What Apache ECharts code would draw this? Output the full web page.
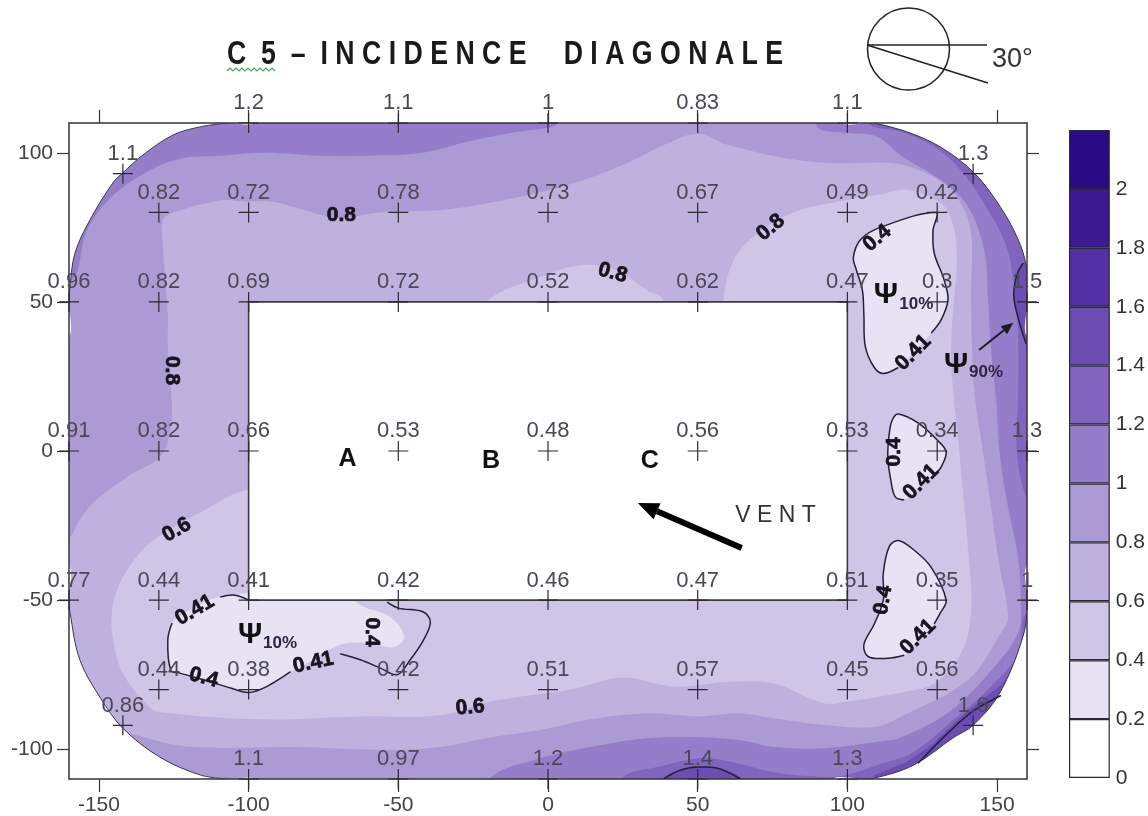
<!DOCTYPE html>
<html><head><meta charset="utf-8">
<style>html,body{margin:0;padding:0;background:#fff}#c{width:1148px;height:816px}</style>
<script src="https://cdn.jsdelivr.net/npm/echarts@6/dist/echarts.min.js"></script>
</head><body><div id="c"></div>
<script>
// measurement points (x, y, value)
const row110X=[-100,-50,0,50,100], row110V=[1.2,1.1,1,0.83,1.1];
const row80X=[-130,-100,-50,0,50,100,130], row80V=[0.82,0.72,0.78,0.73,0.67,0.49,0.42];
const row50X=[-160,-130,-100,-50,0,50,100,130,160], row50V=[0.96,0.82,0.69,0.72,0.52,0.62,0.47,0.3,1.5];
const row0X=[-160,-130,-100,-50,0,50,100,130,160], row0V=[0.91,0.82,0.66,0.53,0.48,0.56,0.53,0.34,1.3];
const rowM50X=[-160,-130,-100,-50,0,50,100,130,160], rowM50V=[0.77,0.44,0.41,0.42,0.46,0.47,0.51,0.35,1];
const rowM80X=[-130,-100,-50,0,50,100,130], rowM80V=[0.44,0.38,0.42,0.51,0.57,0.45,0.56];
const rowM110X=[-100,-50,0,50,100], rowM110V=[1.1,0.97,1.2,1.4,1.3];
const cornerX=[-142,142,-142,142], cornerY=[93,93,-92,-92], cornerV=[1.1,1.3,0.86,1.6];
// axes
const xTicks=[-150,-100,-50,0,50,100,150], yTicks=[-100,-50,0,50,100];
// colour scale
const levels=[0,0.2,0.4,0.6,0.8,1,1.2,1.4,1.6,1.8,2,2.2];
const bandColors=['#ffffff','#e7e3f4','#cfc5e7','#bfb1de','#ab9ad4','#957dc9','#8064bd','#6c4eb3','#5330a3','#3e1a92','#2b0a85'];
// building footprint (data units)
const buildingX=[-100,100], buildingY=[-50,50];
// contour regions, data units
const lt12=[[-170,120],[107,120],[107,110],[118,107],[129,102],[138,94],[146,82.5],[153,69],[155.7,55.7],[157,40.6],[157,17],[156.4,3.7],[158,-10],[161.4,-19],[170,-36],[170,-54],[159.7,-54.4],[157,-68],[147,-80],[135.6,-90],[122,-101],[111,-105],[98,-109],[87,-109],[75.4,-107.7],[58.7,-103.7],[50,-103],[36.6,-106],[25,-109.4],[21,-120],[-170,-120]];
const lt10=[[-170,60],[-159,57.4],[-154,74],[-146,85],[-135,93],[-123,98],[-109.5,99],[-94,100],[-76,99],[-60,99],[-42,100],[-26,104],[-10.5,107],[0,108.4],[3,110],[3,120],[90,120],[90,108.7],[100,106.7],[110,105.4],[118,99],[131,91],[140,82.5],[145.7,67.4],[147,50.7],[148,34],[149.7,17],[151,-2],[153.7,-19],[157,-35.6],[158,-52],[157,-61],[149,-72.5],[134.6,-87],[118,-96],[109,-97.7],[92,-99.7],[75.4,-99.3],[64.4,-97],[50,-96],[33,-96.3],[14,-99.3],[-5,-103.7],[-19,-109.4],[-22.6,-120],[-170,-120]];
const lt08=[[-170,-29],[-160,-29],[-157,-24],[-152,-17.4],[-140.6,-8.7],[-129.6,-2],[-126.3,6],[-125.6,14.8],[-127,35],[-127,46],[-128.6,68.5],[-128.6,77.5],[-125,80],[-109.5,84],[-100.5,83.6],[-92,83.6],[-72.7,78.5],[-66,78.5],[-56.7,80],[-34,81],[-10.5,85],[9,90],[26.6,96.6],[39.6,103],[50,106.4],[60,102.7],[76.8,98.7],[93.5,96.6],[114.5,96.6],[123.6,94.3],[134.6,87.6],[141,75],[141.3,50.7],[142.3,21.5],[145.7,-3],[148,-19],[150.3,-35.6],[153.7,-55.7],[151.3,-61],[140.3,-76.8],[118,-89],[109,-92.6],[93.5,-92],[75.4,-89.6],[64.4,-88],[50,-89],[33,-88],[14,-90],[-2.5,-93.6],[-19,-96],[-36,-99.3],[-51.7,-100.3],[-85,-99.3],[-118.6,-99.3],[-135,-96],[-146,-92],[-163,-83.6],[-170,-83.6]];
const lt06=[[-80,-13],[-100.5,-13],[-115,-20],[-132,-30],[-140.6,-40],[-145,-50],[-145.6,-61],[-142,-74.5],[-133,-86],[-129.6,-87.6],[-96,-90],[-62.7,-89],[-36,-88.6],[-19,-84],[7.5,-80],[25,-76],[42,-79],[60,-77.5],[75.4,-78],[92,-84.6],[100,-84],[118,-81],[129,-78],[138,-67.8],[141.3,-54.4],[140.3,-33],[138,-7.4],[137,3.7],[135.3,20.5],[134.6,34],[135.6,50.7],[136.6,64],[135.3,75.8],[131.3,83],[120.2,87.6],[111,86],[99,84],[82,80],[68.7,72],[62,64],[58.7,51.7],[58.7,40],[0,20]];
const lt06Bump=[[-20,50.7],[-2.5,58.4],[11,62.4],[22.6,60.7],[33,54],[38.3,51],[38,45],[-20,45]];
const lt04TopRight=[[129.6,80],[128.6,74],[129,66.4],[132.3,57.4],[133.6,50.7],[131.3,44],[128,39.6],[123,34],[117,28],[112,26],[109,28],[106,35],[105.5,46],[105,54],[103,60.7],[102,65],[104.5,71],[111,75]];
const lt04MidRight=[[117,12.4],[123.6,9.4],[130,3.7],[133,-0.3],[131.3,-5.4],[129,-8],[123,-13],[119,-16.4],[116,-15.4],[114.5,-9.7],[113.5,-2],[114,6],[115,10.4]];
const lt04LowRight=[[117,-30],[122,-33],[128,-39],[133,-50],[131,-54.4],[129,-58],[124,-63],[119,-68.5],[113.5,-69.5],[107,-69],[105.5,-65],[109,-58],[112,-50],[112,-41],[114,-32]];
const lt04Left=[[-64,-50.7],[-52.7,-55.7],[-48,-62.4],[-51.7,-65.8],[-60.4,-64.4],[-69.4,-65],[-82.8,-72.5],[-86,-74],[-94,-79],[-100,-81],[-106,-79.5],[-114,-77],[-123,-74.5],[-126,-73.5],[-127,-63.4],[-125.6,-57.7],[-119.6,-53.4],[-109.5,-49],[-64,-45]];
const gt14Right=[[158.7,63],[156.4,58.4],[155.7,50.7],[159.7,36],[161.4,34],[170,34],[170,63]];
const gt14Bottom=[[38.6,-110],[44.3,-107],[50,-106],[56.7,-106.4],[64.4,-110],[64.4,-120],[38.6,-120]];
const gt14Corner=[[108.9,-108.7],[119.6,-104.4],[128,-98.7],[139.6,-87.6],[151.3,-78.5],[156.4,-71.8],[170,-72],[170,-120],[108.9,-120]];
// domain outline, data units
const arcTL=[[-160,50],[-159.7,55],[-158,66.4],[-153,77.5],[-145.3,90],[-142,93.3],[-135.3,99.3],[-125.2,106],[-116.2,108.7],[-107,110]];
const arcTR=[[108.9,110],[120,107],[131,102],[142.3,93.3],[151,82],[157,71],[159.7,62],[160,50]];
const arcBR=[[160,-50],[159,-61],[151,-81],[142,-92],[135.6,-96],[122,-105.4],[108.9,-109.7],[103,-109.7]];
const arcBL=[[-107,-110],[-116,-108.7],[-129.6,-102.7],[-142,-93],[-149.7,-82.5],[-156.4,-70],[-159.7,-54],[-160,-50]];
// iso-lines, data units
const isoLines=[
 [[-53.7,-50.7],[-50,-52.7],[-41.6,-54],[-39.3,-57.4],[-41.6,-63.4],[-46,-70],[-50.3,-75],[-56,-72.8],[-62.7,-70],[-69.4,-68]],
 [[-86,-74],[-94,-79],[-100,-81],[-106,-79.5],[-114,-77],[-123,-74.5],[-126,-73.5],[-127,-63.4],[-125.6,-57.7]],
 [[-109.5,-49],[-105,-48.3],[-100,-50]],
 [[128,39.6],[131.3,44],[133.6,50.7],[132.3,57.4],[129,66.4],[128.6,74],[129.6,80],[111,75],[104.5,71],[102,65],[103,60.7],[105,54],[105.5,46],[106,35],[109,28],[112,26],[117,28]],
 [[129,-8],[131.3,-5.4],[133,-0.3],[130,3.7],[123.6,9.4],[117,12.4],[115,10.4],[114,6],[113.5,-2],[114.5,-9.7],[116,-15.4],[119,-16.4]],
 [[129,-58],[131,-54.4],[133,-50],[128,-39],[122,-33],[117,-30],[114,-32],[112,-41],[112,-50],[109,-58],[105.5,-65],[107,-69],[113.5,-69.5],[119,-68.5]],
 [[158.7,63],[156.4,58.4],[155.7,50.7],[159.7,36]],
 [[38.6,-110],[44.3,-107],[50,-106],[56.7,-106.4],[64.4,-110]],
 [[151.3,-82],[142.3,-87],[134.6,-93.6],[123.6,-104.7]]
];
// contour labels
const contourText=['0.8','0.8','0.8','0.8','0.6','0.6','0.41','0.4','0.41','0.4','0.4','0.41','0.4','0.41','0.4','0.41'];
const contourX=[-69,74.4,21.6,-125.6,-124,-26,-118,-115,-78.4,-58.7,110,122,115.6,124.6,112,123.6];
const contourY=[79,75,59.7,27,-26.5,-86,-53.4,-76,-71,-60.7,71.4,33,-0.3,-10.4,-50,-62.4];
const contourAngle=[0,40,-15,-90,30,5,30,-15,12,-90,40,45,90,45,80,45];

const points=[];
function addRow(xs,y,vs){xs.forEach((x,i)=>points.push([x,y,vs[i]]));}
addRow(row110X,110,row110V);addRow(row80X,80,row80V);addRow(row50X,50,row50V);addRow(row0X,0,row0V);
addRow(rowM50X,-50,rowM50V);addRow(rowM80X,-80,rowM80V);addRow(rowM110X,-110,rowM110V);
cornerX.forEach((x,i)=>points.push([x,cornerY[i],cornerV[i]]));

function shapes(items,z,clip){
  return {type:'custom',xAxisIndex:0,yAxisIndex:0,coordinateSystem:'cartesian2d',z:z,clip:clip,silent:true,
    data:items.map((_,i)=>[i]),encode:{x:[],y:[]},
    renderItem:(p,api)=>items[p.dataIndex](api)};
}
const SMOOTH=0.35;
const poly=(pts,fill,smooth)=>api=>({type:'polygon',shape:{points:pts.map(q=>api.coord(q)),smooth:smooth===undefined?SMOOTH:smooth},style:{fill:fill}});
const line=(pts,w,c)=>api=>({type:'polyline',shape:{points:pts.map(q=>api.coord(q)),smooth:SMOOTH},style:{fill:null,stroke:c||'#24203a',lineWidth:w||1.4}});
const text=(t,x,y,font,fill,deg,heavy)=>api=>{const c=api.coord([x,y]);return {type:'text',x:c[0],y:c[1],rotation:(deg||0)*Math.PI/180,style:{text:t,font:font,fill:fill,align:'center',verticalAlign:'middle',stroke:heavy?fill:null,lineWidth:heavy?0.7:0}};};
const arrow=(from,to,w,head,c)=>api=>{const a=api.coord(from),b=api.coord(to),ang=Math.atan2(b[1]-a[1],b[0]-a[0]);
  const bx=b[0]-head*Math.cos(ang),by=b[1]-head*Math.sin(ang),nx=-Math.sin(ang)*head*0.42,ny=Math.cos(ang)*head*0.42;
  return {type:'group',children:[
    {type:'line',shape:{x1:a[0],y1:a[1],x2:bx,y2:by},style:{stroke:c,lineWidth:w}},
    {type:'polygon',shape:{points:[b,[bx+nx,by+ny],[bx-nx,by-ny]]},style:{fill:c}}]};};
const rect=(xs,ys,fill,stroke)=>api=>{const a=api.coord([xs[0],ys[1]]),b=api.coord([xs[1],ys[0]]);
  return {type:'rect',shape:{x:a[0],y:a[1],width:b[0]-a[0],height:b[1]-a[1]},style:{fill:fill,stroke:stroke||null,lineWidth:stroke?1.6:0}};};

const fills=[
  rect([-170,170],[-120,120],bandColors[6]),
  poly(gt14Corner,bandColors[7],0),poly(lt12,bandColors[5]),poly(lt10,bandColors[4]),poly(lt08,bandColors[3]),
  poly(lt06,bandColors[2]),poly(lt06Bump,bandColors[2]),
  poly(lt04TopRight,bandColors[1]),poly(lt04MidRight,bandColors[1]),poly(lt04LowRight,bandColors[1]),poly(lt04Left,bandColors[1]),
  poly(gt14Right,bandColors[7]),poly(gt14Bottom,bandColors[7]),
  poly([[-175,38],[-160.4,38]].concat(arcTL,[[-98,110.4],[-98,125],[-175,125]]),'#fff'),
  poly([[98,125],[98,110.4]].concat(arcTR,[[160.4,38],[175,38],[175,125]]),'#fff'),
  poly([[175,-38],[160.4,-38]].concat(arcBR,[[95,-110.4],[95,-125],[175,-125]]),'#fff'),
  poly([[-98,-125],[-98,-110.4]].concat(arcBL,[[-160.4,-38],[-175,-38],[-175,-125]]),'#fff'),
  rect(buildingX,buildingY,'#fff','#3a3a48')
];
const lines=[arcTL,arcTR,arcBR,arcBL].map(a=>line(a,1,'#3b3550')).concat(isoLines.map(a=>line(a,1.5)));
const notes=contourText.map((t,i)=>text(t,contourX[i],contourY[i],'bold 21px "Liberation Sans"','#17131f',contourAngle[i],true));
notes.push(
  text('A',-67,-2.7,'bold 25px "Liberation Sans"','#111'),
  text('B',-19,-3.4,'bold 25px "Liberation Sans"','#111'),
  text('C',34,-3.4,'bold 25px "Liberation Sans"','#111'),
  text('V E N T',76,-21.8,'23px "Liberation Sans"','#333'),
  arrow([64.7,-32.5],[30,-17.4],6,21,'#000'),
  text('Ψ',112.9,52.3,'bold 30px "Liberation Sans"','#111'),
  text('10%',123,49.3,'bold 17px "Liberation Sans"','#2c2545'),
  text('Ψ',-99.5,-61.7,'bold 30px "Liberation Sans"','#111'),
  text('10%',-89.5,-64.4,'bold 17px "Liberation Sans"','#2c2545'),
  text('Ψ',136.3,28.9,'bold 30px "Liberation Sans"','#111'),
  text('90%',146.3,26.5,'bold 17px "Liberation Sans"','#2c2545'),
  arrow([144,33.9],[155.4,43],2,12,'#1e1a2c')
);

const axisLine={show:true,onZero:false,lineStyle:{color:'#34323f',width:1.5}};
const tickStyle={lineStyle:{color:'#34323f',width:1.2}};
const labelStyle={fontFamily:'Liberation Sans',fontSize:21,color:'#444',margin:16};
function xAx(pos,show){return {type:'value',gridIndex:0,min:-160,max:160,position:pos,z:3,axisLine:axisLine,splitLine:{show:false},
  axisTick:Object.assign({show:true,length:13,customValues:xTicks},tickStyle),
  axisLabel:Object.assign({show:show,customValues:xTicks},labelStyle)};}
function yAx(pos,show){return {type:'value',gridIndex:0,min:-110,max:110,position:pos,z:3,axisLine:axisLine,splitLine:{show:false},
  axisTick:Object.assign({show:true,length:12,customValues:yTicks},tickStyle),
  axisLabel:Object.assign({show:show,customValues:yTicks},labelStyle)};}

const legendSeries=bandColors.map((c,i)=>({type:'bar',xAxisIndex:2,yAxisIndex:2,stack:'scale',barWidth:'100%',silent:true,
  itemStyle:{color:c,borderColor:'#2a2838',borderWidth:1.2},data:[+(levels[i+1]-levels[i]).toFixed(2)]}));

const zig=[];for(let i=0;i<=16;i++)zig.push([227+i*3,i%2?68:71]);

const chart=echarts.init(document.getElementById('c'),null,{renderer:'canvas'});
chart.setOption({
  animation:false,backgroundColor:'#fff',
  grid:[{left:69,top:123,width:958,height:657},{left:1069,top:130,width:41,height:648}],
  xAxis:[xAx('bottom',true),xAx('top',false),
    {type:'category',gridIndex:1,data:['scale'],axisLine:{show:false},axisTick:{show:false},axisLabel:{show:false}}],
  yAxis:[yAx('left',true),yAx('right',false),
    {type:'value',gridIndex:1,min:0,max:2.2,interval:0.2,position:'right',axisLine:{show:false},axisTick:{show:false},splitLine:{show:false},
     axisLabel:{showMaxLabel:false,fontFamily:'Liberation Sans',fontSize:21,color:'#333',margin:6}}],
  series:[
    shapes(fills,1,true),
    shapes(lines,4,true),
    {type:'scatter',xAxisIndex:0,yAxisIndex:0,z:5,silent:true,clip:false,symbol:'path://M0 5H10M5 0V10',symbolSize:20,
     itemStyle:{color:'rgba(0,0,0,0)',borderColor:'#2b2933',borderWidth:1.2,opacity:1},
     label:{show:true,position:'top',distance:-2,fontFamily:'Liberation Sans',fontSize:22,color:'#4a4856',formatter:p=>String(p.value[2])},
     data:points},
    shapes(notes,6,false)
  ].concat(legendSeries),
  graphic:[
    {type:'text',x:227,y:38,scaleX:0.785,style:{text:'C  5  –  I N C I D E N C E     D I A G O N A L E',font:'bold 34px "Liberation Sans"',fill:'#1a1a1a'}},
    {type:'polyline',shape:{points:zig},style:{stroke:'#4f9e62',fill:null,lineWidth:1.2}},
    {type:'circle',shape:{cx:908.5,cy:49,r:41},style:{fill:'#fff',stroke:'#222',lineWidth:1.5}},
    {type:'line',shape:{x1:867,y1:45,x2:987,y2:45},style:{stroke:'#222',lineWidth:1.5}},
    {type:'line',shape:{x1:867,y1:45,x2:988,y2:83},style:{stroke:'#222',lineWidth:1.5}},
    {type:'text',x:992,y:46,style:{text:'30°',font:'27px "Liberation Sans"',fill:'#333'}}
  ]
});
</script></body></html>
